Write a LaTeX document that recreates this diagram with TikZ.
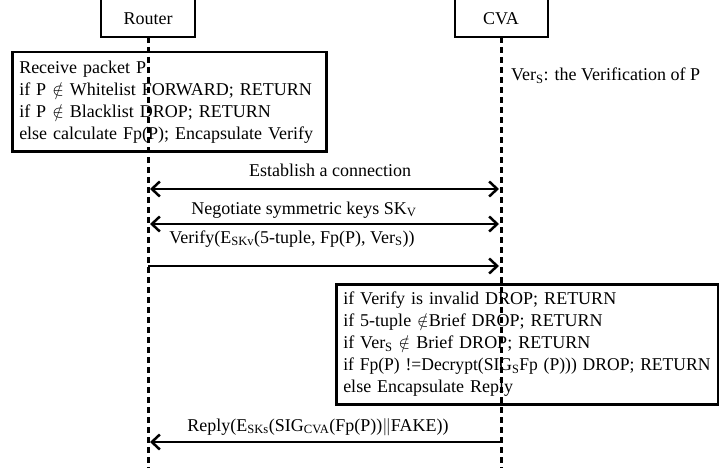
\documentclass[tikz,border=0pt]{standalone}
\usepackage{fontspec}
\setmainfont{Liberation Serif}
\usetikzlibrary{arrows.meta}
\begin{document}
\begin{tikzpicture}[x=1pt,y=-1pt,
  font=\fontsize{18}{22}\selectfont,
  actorbox/.style={draw, line width=2.5pt},
  lifeline/.style={line width=3pt, dash pattern=on 6pt off 4pt},
  notebox/.style={draw, line width=2.5pt, anchor=north west, align=left,
    inner xsep=7pt, inner ysep=0pt},
  msg/.style={line width=2.5pt, -{Straight Barb[length=8pt,width=15pt,line width=2.5pt]}},
  msgboth/.style={line width=2.5pt, {Straight Barb[length=8pt,width=15pt,line width=2.5pt]}-{Straight Barb[length=8pt,width=15pt,line width=2.5pt]}},
  lbl/.style={inner sep=0pt}]
\useasboundingbox (0,0) rectangle (719,468);
% actors
\draw[actorbox] (101,-5) rectangle (195,37);
\node (router) at (148,19) {Router};
\draw[actorbox] (455,-5) rectangle (548,37);
\node (cva) at (501,19) {CVA};
\coordinate (rtop) at (148,37);
\coordinate (rbot) at (148,468);
\coordinate (ctop) at (501,37);
\coordinate (cbot) at (501,468);
% note boxes
\node[notebox, text width=300pt, minimum height=99pt] (rnote) at (11,51)
  {Receive packet P\\
   if P $\notin$ Whitelist FORWARD; RETURN\\
   if P $\notin$ Blacklist DROP; RETURN\\
   else calculate Fp(P); Encapsulate Verify};
\node[notebox, text width=368pt, minimum height=120pt] (cnote) at (335,283)
  {if Verify is invalid DROP; RETURN\\
   if 5-tuple $\notin$Brief DROP; RETURN\\
   if Ver\textsubscript{S} $\notin$ Brief DROP; RETURN\\
   \scalebox{0.975}[1]{if Fp(P) !=Decrypt(SIG\textsubscript{S}Fp (P))) DROP; RETURN}\\
   else Encapsulate Reply};
\node[lbl, anchor=west] (vers) at (511,76) {Ver\textsubscript{S}: the Verification of P};
% lifelines
\draw[lifeline] (rtop) -- (rbot);
\draw[lifeline] (ctop) -- (cbot);
% messages
\coordinate (r1) at (150,189); \coordinate (c1) at (499,189);
\coordinate (r2) at (150,224); \coordinate (c2) at (499,224);
\coordinate (r3) at (148,266); \coordinate (c3) at (499,266);
\coordinate (r4) at (150,442); \coordinate (c4) at (501,442);
\draw[msgboth] (r1) -- (c1);
\draw[msgboth] (r2) -- (c2);
\draw[msg] (r3) -- (c3);
\draw[msg] (c4) -- (r4);
\node[lbl] (m1) at (330,170) {Establish a connection};
\node[lbl] (m2) at (304,210) {Negotiate symmetric keys SK\textsubscript{V}};
\node[lbl] (m3) at (292,239) {Verify(E\textsubscript{SKv}(5-tuple, Fp(P), Ver\textsubscript{S}))};
\node[lbl] (m4) at (318,427) {Reply(E\textsubscript{SKs}(SIG\textsubscript{CVA}(Fp(P))$\|$FAKE))};
\end{tikzpicture}
\end{document}
